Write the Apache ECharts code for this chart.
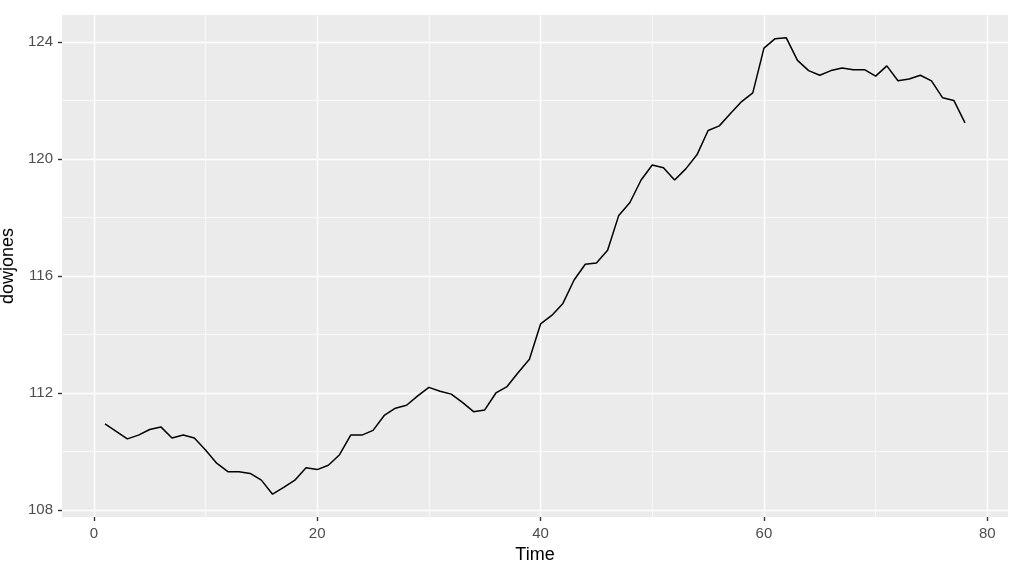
<!DOCTYPE html>
<html><head><meta charset="utf-8">
<script src="https://cdn.jsdelivr.net/npm/echarts@6/dist/echarts.min.js"></script>
<style>html,body{margin:0;padding:0;background:#fff}#c{width:1013px;height:564px}</style>
</head><body><div id="c"></div>
<script>
const dowjones = [110.94,110.69,110.43,110.56,110.75,110.84,110.46,110.56,110.46,110.05,109.60,109.31,109.31,109.25,109.02,108.54,108.77,109.02,109.44,109.38,109.53,109.89,110.56,110.56,110.72,111.23,111.48,111.58,111.90,112.19,112.06,111.96,111.68,111.36,111.42,112.00,112.22,112.70,113.15,114.36,114.65,115.06,115.86,116.40,116.44,116.88,118.07,118.51,119.28,119.79,119.70,119.28,119.66,120.14,120.97,121.13,121.55,121.96,122.26,123.79,124.11,124.14,123.37,123.02,122.86,123.02,123.11,123.05,123.05,122.83,123.18,122.67,122.73,122.86,122.67,122.09,122.00,121.23];
const time = dowjones.map((_, i) => i + 1);
const xMajor = [0, 20, 40, 60, 80];
const xMinor = [10, 30, 50, 70];
const yMajor = [108, 112, 116, 120, 124];
const yMinor = [110, 114, 118, 122];

const xMin = -2.85, xMax = 81.85, yMin = 107.76, yMax = 124.92;
const chart = echarts.init(document.getElementById('c'));
const FONT = 'Liberation Sans, Arial, sans-serif';
function axisBase(type, major, extra) {
  return Object.assign({
    type: 'value', position: type === 'x' ? 'bottom' : 'left',
    min: type === 'x' ? xMin : yMin, max: type === 'x' ? xMax : yMax,
    axisLine: {show: false, onZero: false},
    axisTick: {show: true, length: 4, lineStyle: {color: '#333333', width: 1.4}, customValues: major},
    axisLabel: {customValues: major, margin: type === 'x' ? 9 : 9, color: '#4D4D4D', fontSize: 15, fontFamily: FONT},
    splitLine: {show: true, lineStyle: {color: '#FFFFFF', width: 1.4}}
  }, extra);
}
function minorAxis(type, vals) {
  return {
    type: 'value', position: type === 'x' ? 'bottom' : 'left',
    min: type === 'x' ? xMin : yMin, max: type === 'x' ? xMax : yMax,
    axisLine: {show: false, onZero: false}, axisLabel: {show: false},
    axisTick: {show: false, customValues: vals},
    splitLine: {show: true, lineStyle: {color: '#FFFFFF', width: 0.7}}
  };
}
chart.setOption({
  animation: false,
  backgroundColor: '#FFFFFF',
  grid: {left: 62, right: 5, top: 15, bottom: 47, show: true, backgroundColor: '#EBEBEB', borderWidth: 0,
    containLabel: false, outerBoundsMode: 'none'},
  xAxis: [
    minorAxis('x', xMinor),
    axisBase('x', xMajor, {name: 'Time', nameLocation: 'middle', nameGap: 27,
      nameTextStyle: {color: '#000', fontSize: 18, fontFamily: FONT}})
  ],
  yAxis: [
    minorAxis('y', yMinor),
    axisBase('y', yMajor, {name: 'dowjones', nameLocation: 'middle', nameGap: 44,
      nameTextStyle: {color: '#000', fontSize: 18, fontFamily: FONT}})
  ],
  series: [{
    type: 'line', xAxisIndex: 1, yAxisIndex: 1,
    data: time.map((t, i) => [t, dowjones[i]]),
    showSymbol: false, symbol: 'none',
    lineStyle: {color: '#000000', width: 1.5}
  }]
});
</script></body></html>
